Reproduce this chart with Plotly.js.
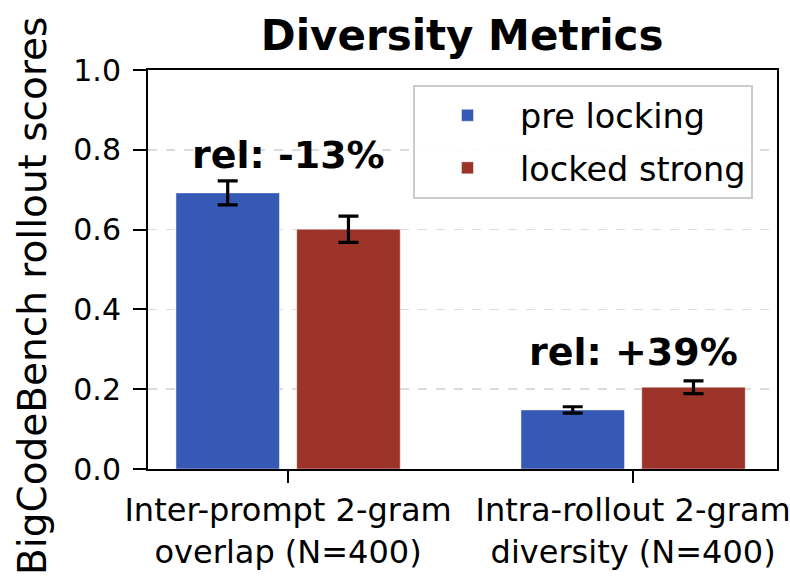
<!DOCTYPE html>
<html>
<head>
<meta charset="utf-8">
<script src="https://cdn.plot.ly/plotly-3.0.1.min.js"></script>
<style>html,body{margin:0;padding:0;background:#fff;}#chart{width:790px;height:584px;}</style>
</head>
<body>
<div id="chart"></div>
<script>
const categories = ["Inter-prompt 2-gram<br>overlap (N=400)", "Intra-rollout 2-gram<br>diversity (N=400)"];
const seriesNames = ["pre locking", "locked strong"];
const preLocking = [0.692, 0.148];
const preLockingErr = [0.030, 0.008];
const lockedStrong = [0.601, 0.205];
const lockedStrongErr = [0.033, 0.016];
const relLabels = ["rel: -13%", "rel: +39%"];
const relLabelY = [0.787, 0.293];
const yTicks = [0.0, 0.2, 0.4, 0.6, 0.8, 1.0];
const yTickText = ["0.0", "0.2", "0.4", "0.6", "0.8", "1.0"];
const yTitle = "BigCodeBench rollout scores";

const FONT = "DejaVu Sans, sans-serif";
const colors = ["#3559b4", "#9c3329"];

function barTrace(name, y, err, color, grp) {
  return {
    type: "bar", name: name, x: categories, y: y, legendgroup: grp,
    marker: {color: color, line: {color: "rgba(255,255,255,0.45)", width: 1}},
    error_y: {type: "data", array: err, visible: true, color: "#000", thickness: 3.2, width: 10}
  };
}

const data = [
  barTrace(seriesNames[0], preLocking, preLockingErr, colors[0], "a"),
  barTrace(seriesNames[1], lockedStrong, lockedStrongErr, colors[1], "b")
];

const annotations = relLabels.map((t, i) => ({
  x: categories[i], y: relLabelY[i], xref: "x", yref: "y", text: t, showarrow: false,
  xanchor: "center", yanchor: "middle",
  font: {family: FONT, size: 38, color: "#000", weight: "bold"}
}));
annotations.push({
  x: -0.183, y: 0.4336, xref: "paper", yref: "paper", text: yTitle, showarrow: false,
  textangle: -90, xanchor: "center", yanchor: "middle",
  font: {family: FONT, size: 39, color: "#000"}
});

const layout = {
  width: 790, height: 584,
  margin: {l: 148, r: 13, t: 70, b: 115},
  paper_bgcolor: "#fff", plot_bgcolor: "#fff",
  barmode: "group", bargap: 0.3, bargroupgap: 0.143,
  title: {text: "<b>Diversity Metrics</b>", x: 0.585, xanchor: "center", y: 0.94, yanchor: "middle",
          font: {family: FONT, size: 42, color: "#000"}},
  xaxis: {
    type: "category", range: [-0.406, 1.417],
    showline: true, linecolor: "#000", linewidth: 2, mirror: true,
    ticks: "outside", ticklen: 12, tickwidth: 2, tickcolor: "#000",
    showgrid: false, tickfont: {family: FONT, size: 32, color: "#000"}
  },
  yaxis: {
    range: [0, 1.0], tickvals: yTicks, ticktext: yTickText,
    showline: true, linecolor: "#000", linewidth: 2, mirror: true,
    ticks: "outside", ticklen: 13, tickwidth: 2, tickcolor: "#000",
    showgrid: true, gridcolor: "#dcdcdc", gridwidth: 1.5, griddash: "dash", zeroline: false,
    tickfont: {family: FONT, size: 30, color: "#000"}, ticklabelstandoff: 6
  },
  legend: {
    x: 0.4213, y: 0.9624, xanchor: "left", yanchor: "top",
    bordercolor: "#cccccc", borderwidth: 2, bgcolor: "rgba(255,255,255,0.9)",
    font: {family: FONT, size: 33.5, color: "#000"},
    traceorder: "grouped", tracegroupgap: 6, itemwidth: 95
  },
  annotations: annotations
};

Plotly.newPlot("chart", data, layout, {displayModeBar: false, staticPlot: true});
</script>
</body>
</html>
